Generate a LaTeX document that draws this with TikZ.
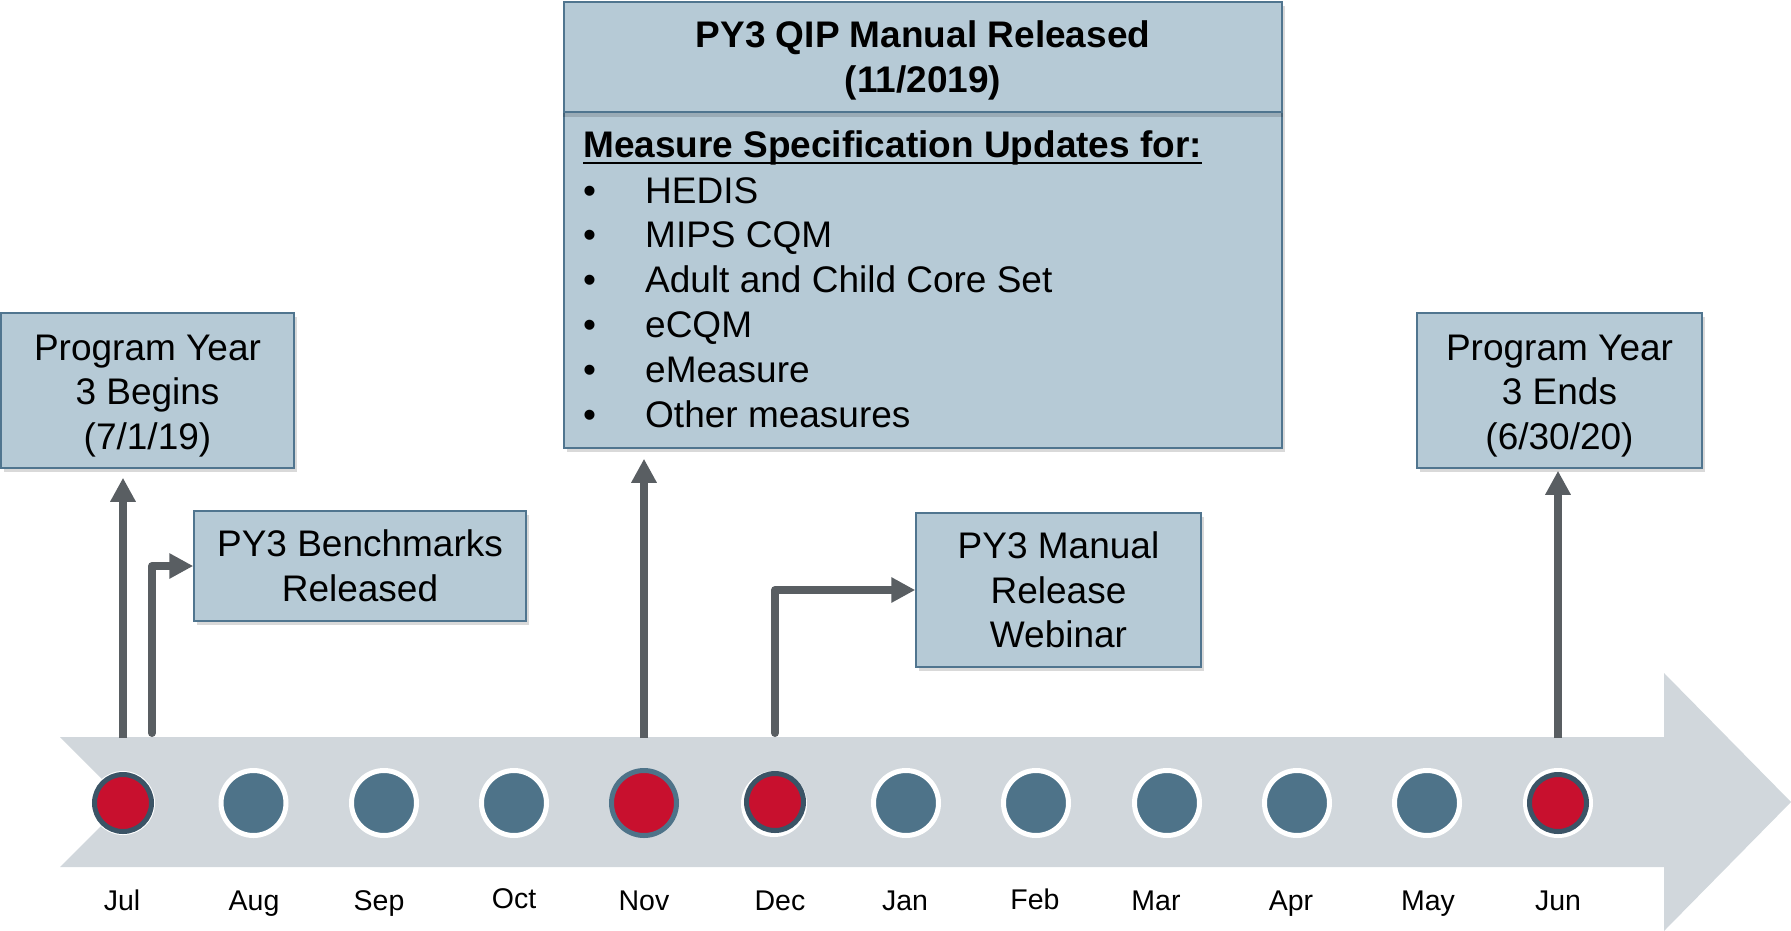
\documentclass[tikz,border=0pt]{standalone}
\usepackage{fontspec}
\setmainfont{Liberation Sans}
\usetikzlibrary{arrows.meta,shadows}
\definecolor{boxfill}{HTML}{B6CAD6}
\definecolor{boxline}{HTML}{50758F}
\definecolor{bandgray}{HTML}{D1D7DC}
\definecolor{dotblue}{HTML}{4E7389}
\definecolor{dotred}{HTML}{C8102E}
\definecolor{ringdark}{HTML}{3B5466}
\definecolor{arrowgray}{HTML}{595E62}
\begin{document}
\begin{tikzpicture}[x=1pt,y=-1pt,
  evbox/.style={draw=boxline, line width=1.5pt, fill=boxfill, inner sep=0pt, align=center,
    font=\fontsize{37}{44.5}\selectfont,
    drop shadow={shadow xshift=3pt, shadow yshift=-4pt, opacity=0.3}},
  bigtxt/.style={inner sep=0pt, font=\fontsize{37}{44.5}\selectfont},
  boldtxt/.style={inner sep=0pt, font=\fontsize{37}{44.5}\selectfont\bfseries},
  mon/.style={circle, minimum size=65pt, inner sep=0pt, line width=5pt, draw=white, fill=dotblue},
  redmon/.style={circle, minimum size=57pt, inner sep=0pt, line width=5pt, draw=ringdark, fill=dotred},
  novmon/.style={circle, minimum size=65pt, inner sep=0pt, line width=5pt, draw=dotblue, fill=dotred},
  whitedisc/.style={circle, inner sep=0pt, fill=white},
  monlab/.style={anchor=base, inner sep=0pt, font=\fontsize{28.5}{32}\selectfont},
  conn/.style={draw=arrowgray, line width=8pt, line join=round, -{Triangle[width=24pt,length=24pt]}}
]
\useasboundingbox (0,0) rectangle (1791,930);

% timeline band
\fill[bandgray] (60,737) -- (1664,737) -- (1664,673) -- (1791,802) -- (1664,931)
  -- (1664,867) -- (60,867) -- (125,802) -- cycle;

% month dots
\node[whitedisc, minimum size=64pt] (w1) at (123,803) {};
\node[redmon] (m1) at (123,803) {};
\node[mon] (m2) at (253.5,803) {};
\node[mon] (m3) at (384,803) {};
\node[mon] (m4) at (514,803) {};
\node[novmon] (m5) at (644,803) {};
\node[whitedisc, minimum size=66pt] (w6) at (774,804) {};
\node[redmon] (m6) at (775,802) {};
\node[mon] (m7) at (906,803) {};
\node[mon] (m8) at (1036,803) {};
\node[mon] (m9) at (1167,803) {};
\node[mon] (m10) at (1297,803) {};
\node[mon] (m11) at (1427,803) {};
\node[whitedisc, minimum size=70pt] (w12) at (1558,803) {};
\node[redmon] (m12) at (1558,803) {};

% month labels
\node[monlab] (l1) at (122,910) {Jul};
\node[monlab] (l2) at (254,910) {Aug};
\node[monlab] (l3) at (379,910) {Sep};
\node[monlab] (l4) at (514,908) {Oct};
\node[monlab] (l5) at (644,910) {Nov};
\node[monlab] (l6) at (780,910) {Dec};
\node[monlab] (l7) at (905,910) {Jan};
\node[monlab] (l8) at (1035,909) {Feb};
\node[monlab] (l9) at (1156,910) {Mar};
\node[monlab] (l10) at (1291,910) {Apr};
\node[monlab] (l11) at (1428,910) {May};
\node[monlab] (l12) at (1558,910) {Jun};

% event boxes
\node[evbox, minimum width=293pt, minimum height=155pt] (b1) at (147.5,390.5)
  {\rule{0pt}{36pt}Program Year\\3 Begins\\(7/1/19)};
\node[evbox, minimum width=332pt, minimum height=110pt] (b2) at (360,566)
  {PY3 Benchmarks\\Released};
\node[evbox, minimum width=285pt, minimum height=154pt] (b3) at (1058.5,590)
  {PY3 Manual\\Release\\Webinar};
\node[evbox, minimum width=285pt, minimum height=155pt] (b4) at (1559.5,390.5)
  {\rule{0pt}{36pt}Program Year\\3 Ends\\(6/30/20)};

% main QIP box
\node[evbox, minimum width=718pt, minimum height=446pt] (qip) at (923,225) {};
\coordinate (dv) at (0,112);
\coordinate (dvs) at (0,115);
\draw[black, opacity=0.15, line width=4pt] (qip.west |- dvs) -- (qip.east |- dvs);
\draw[boxline, line width=1.5pt] (qip.west |- dv) -- (qip.east |- dv);
\node[boldtxt, anchor=base] (t1) at (923,47) {PY3 QIP Manual Released};
\node[boldtxt, anchor=base] (t2) at (923,92) {(11/2019)};
\node[boldtxt, anchor=base west] (hd) at (583,157) {Measure Specification Updates for:};
\draw[black, line width=2.5pt] ([yshift=-6pt]hd.base west) -- ([yshift=-6pt]hd.base east);
\node[bigtxt, anchor=base west] (i1) at (583,203) {\makebox[62pt][l]{\textbullet}HEDIS};
\node[bigtxt, anchor=base west] (i2) at (583,247.5) {\makebox[62pt][l]{\textbullet}MIPS CQM};
\node[bigtxt, anchor=base west] (i3) at (583,292) {\makebox[62pt][l]{\textbullet}Adult and Child Core Set};
\node[bigtxt, anchor=base west] (i4) at (583,337) {\makebox[62pt][l]{\textbullet}eCQM};
\node[bigtxt, anchor=base west] (i5) at (583,382) {\makebox[62pt][l]{\textbullet}eMeasure};
\node[bigtxt, anchor=base west] (i6) at (583,427) {\makebox[62pt][l]{\textbullet}Other measures};

% connectors
\coordinate (s1) at (123,738);
\coordinate (s1b) at (152,733);
\coordinate (s5) at (644,738);
\coordinate (s6) at (775,733);
\coordinate (s12) at (1558,738);
\draw[conn, shorten >=9pt] (s1) -- (s1 |- b1.south);
\draw[conn, line cap=round] (s1b) |- (b2.west);
\draw[conn, shorten >=10pt] (s5) -- (s5 |- qip.south);
\draw[conn, line cap=round] (s6) |- (b3.west);
\draw[conn, shorten >=2pt] (s12) -- (s12 |- b4.south);
\end{tikzpicture}
\end{document}
